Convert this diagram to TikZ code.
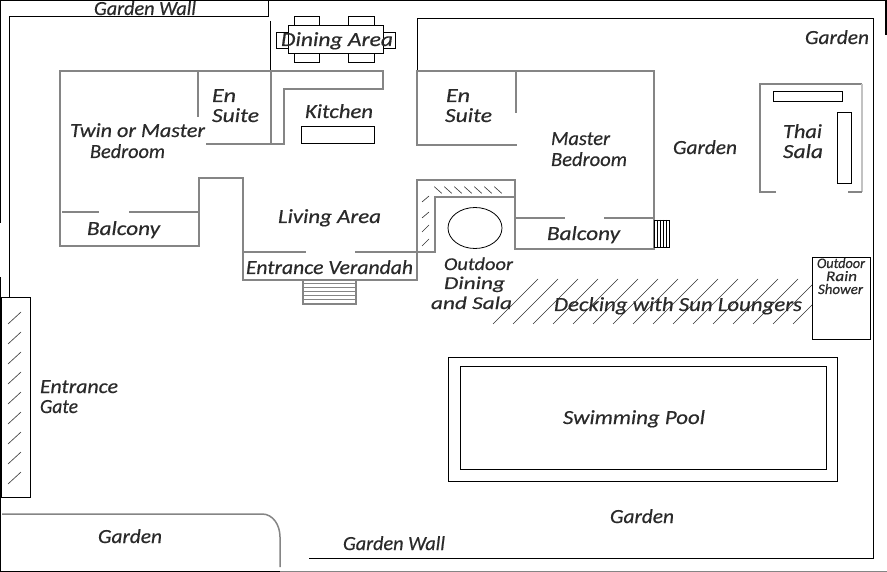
\documentclass[tikz,border=0pt]{standalone}
\usepackage{fontspec}
\usepackage{graphicx}
\setmainfont{Carlito}[ItalicFeatures={FakeBold=0.4}]
\definecolor{wallgray}{HTML}{858585}
\definecolor{inkc}{HTML}{2A2A2A}
\tikzset{
  wallg/.style={draw=wallgray,line width=1.7pt,line join=miter},
  blk/.style={draw=black,line width=0.8pt},
  hatchl/.style={draw=black!80,line width=0.6pt},
  lab/.style={inner sep=0pt,outer sep=0pt,anchor=base west,text=inkc,yshift=-1pt,font=\fontsize{20}{22}\selectfont\itshape},
  labm/.style={lab,font=\fontsize{18}{20}\selectfont\itshape},
  labs/.style={lab,font=\fontsize{14.5}{16}\selectfont\itshape},
}
\newcommand{\wlab}[5][lab]{\node (#2) [#1] at (#3) {\resizebox{#4pt}{\height}{#5}};}
\begin{document}
\begin{tikzpicture}[x=1pt,y=-1pt]
\useasboundingbox (0,0) rectangle (887,572);
\fill[white] (0,0) rectangle (887,572);
% outer frame
\draw[blk,line width=1.2pt] (0.5,223) -- (0.5,0.5) -- (887,0.5);
\draw[blk,line width=1.2pt] (0.5,277) -- (0.5,571.5) -- (280,571.5);
\draw[draw=wallgray,line width=1.2pt] (280,571.5) -- (887,571.5);
\draw[blk,line width=1.2pt] (886,0) -- (886,35);
% garden walls
\draw[blk] (268,0) -- (268,16) -- (9,16) -- (9,297);
\draw[blk] (270,21) -- (270,71);
\draw[blk] (417,71) -- (417,18) -- (873,18) -- (873,558) -- (309,558);
% gate
\draw[blk] (1,297) rectangle (30,497);
\foreach \i in {0,...,8} \draw[hatchl] (8,324+20*\i) -- (21,312+20*\i);
% dining
\draw[blk] (288,25) rectangle (383,53);
\draw[blk] (294.5,16) rectangle (319,25);
\draw[blk] (348,16) rectangle (374,25);
\draw[blk] (294.5,53) rectangle (319,62);
\draw[blk] (348,53) rectangle (374,62);
\draw[blk] (276,32) rectangle (288,48);
\draw[blk] (383,32) rectangle (395,48);
% house walls
\draw[wallg] (206,144) -- (284,144) -- (284,89) -- (383,89) -- (383,71) -- (60,71) -- (60,246) -- (199,246) -- (199,178) -- (243,178) -- (243,280) -- (417,280) -- (417,180) -- (515,180) -- (515,249) -- (654,249) -- (654,71) -- (417,71) -- (417,145) -- (517,145);
\draw[wallg] (271,71) -- (271,144);
\draw[wallg] (198,71) -- (198,117);
\draw[wallg] (516,71) -- (516,113);
\draw[wallg] (243,252) -- (306,252);
\draw[wallg] (355,252) -- (435,252) -- (435,197) -- (515,197);
\draw[wallg] (62,212) -- (99,212);
\draw[wallg] (129,212) -- (199,212);
\draw[wallg] (515,218) -- (565,218);
\draw[wallg] (604,218) -- (654,218);
% kitchen counter
\draw[blk] (301,126) rectangle (374,143);
% entrance steps
\draw[draw=wallgray,line width=1.3pt] (303,280) rectangle (356,304);
\foreach \i in {1,...,5} \draw[draw=wallgray,line width=1.2pt] (303,280+3.9*\i) -- (356,280+3.9*\i);
% balcony steps
\draw[blk,line width=0.7pt] (654,220) rectangle (669.5,247);
\foreach \i in {1,...,4} \draw[draw=black,line width=0.6pt] (654+3.1*\i,220) -- (654+3.1*\i,247);
% outdoor dining
\draw[blk] (475,228) ellipse [x radius=27,y radius=20.5];
\foreach \i in {0,...,6} \draw[hatchl] (434.3+10*\i,186.7) -- (441.7+10*\i,193.3);
\draw[hatchl] (422,202) -- (429,196);
\draw[hatchl] (422,218) -- (429,212);
\draw[hatchl] (422,232) -- (429,225);
\draw[hatchl] (422,246) -- (429,239);
% decking
\begin{scope}
\clip (480,270) rectangle (812,330);
\foreach \i in {0,...,15} \draw[hatchl] (493+20*\i,324) -- (538+20*\i,279);
\end{scope}
% shower
\draw[blk] (812,257) rectangle (870,339);
% thai sala
\draw[wallg,line width=1.5pt] (776,192) -- (760,192) -- (760,84) -- (862,84);
\draw[draw=wallgray!50,line width=1.5pt] (862,84) -- (862,192);
\draw[wallg,line width=1.5pt] (848,192) -- (862,192);
\draw[blk] (773,91) rectangle (842,101);
\draw[blk] (837,112) rectangle (851,183);
% pool
\draw[blk] (448,357) rectangle (837,481);
\draw[blk] (460,366) rectangle (826,469);
% garden corner
\draw[wallg,line width=1.5pt] (2,514) -- (262,514) .. controls (273,514) and (280,525) .. (280,537) -- (280,567);
% labels
\wlab{gwtop}{94,14}{102}{Garden Wall}
\wlab{dining}{281,45}{112}{Dining Area}
\wlab{en1}{212,101}{24}{En}
\wlab{suite1}{212,121}{47}{Suite}
\wlab{twin}{70,136}{135}{Twin or Master}
\wlab{bed1}{90,157}{75}{Bedroom}
\wlab{kitchen}{305,117}{68}{Kitchen}
\wlab{bal1}{87,234}{73}{Balcony}
\wlab{living}{278,222}{103}{Living Area}
\wlab{verandah}{246,273}{167}{Entrance Verandah}
\wlab{en2}{446,101}{24}{En}
\wlab{suite2}{445,121}{47}{Suite}
\wlab{master}{551,144}{59}{Master}
\wlab{bed2}{551,165}{76}{Bedroom}
\wlab{gmid}{673,153}{64}{Garden}
\wlab{gtr}{805,43}{64}{Garden}
\wlab{thai}{783,137}{39}{Thai}
\wlab{sala}{783,157}{40}{Sala}
\wlab{bal2}{547,239}{73}{Balcony}
\wlab[labm]{outd}{444,269}{69}{Outdoor}
\wlab[labm]{dinb}{444,288}{61}{Dining}
\wlab[labm]{andsala}{431,308}{81}{and Sala}
\wlab{deck}{554,310}{248}{Decking with Sun Loungers}
\wlab[labs]{rain1}{817,267}{48}{Outdoor}
\wlab[labs]{rain2}{826,280}{31}{Rain}
\wlab[labs]{rain3}{818,293}{45}{Shower}
\wlab{ent}{40,392}{78}{Entrance}
\wlab{gate}{40,412}{38}{Gate}
\wlab{gbl}{98,542}{64}{Garden}
\wlab{gwbot}{343,549}{102}{Garden Wall}
\wlab{pool}{563,423}{142}{Swimming Pool}
\wlab{gbot}{610,522}{64}{Garden}
\end{tikzpicture}
\end{document}
